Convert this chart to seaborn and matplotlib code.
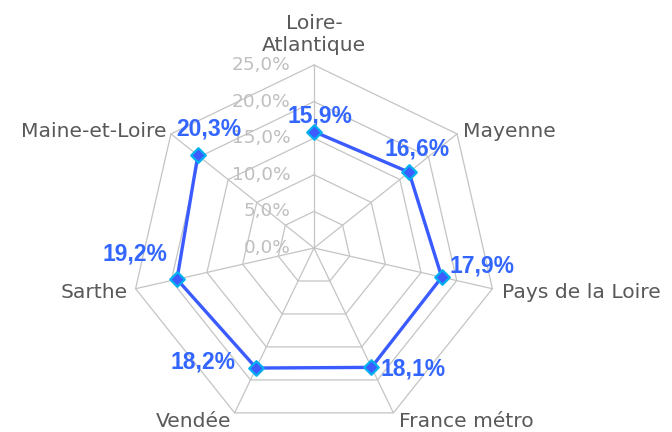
import numpy as np
import pandas as pd
import matplotlib
matplotlib.use("Agg")
import matplotlib.pyplot as plt
import seaborn as sns

# data (clockwise from top)
categories = ["Loire-\nAtlantique", "Mayenne", "Pays de la Loire", "France métro",
              "Vendée", "Sarthe", "Maine-et-Loire"]
values = [15.9, 16.6, 17.9, 18.1, 18.2, 19.2, 20.3]
ring_values = [0, 5, 10, 15, 20, 25]
ring_labels = ["0,0%", "5,0%", "10,0%", "15,0%", "20,0%", "25,0%"]
value_labels = ["15,9%", "16,6%", "17,9%", "18,1%", "18,2%", "19,2%", "20,3%"]

sns.set_style("white")
plt.rcParams["font.family"] = ["DejaVu Sans"]

n = len(categories)
angles = np.arange(n) * 2 * np.pi / n
rmax = ring_values[-1]

def xy(r, a):
    return r * np.sin(a), r * np.cos(a)

fig = plt.figure(figsize=(6.72, 4.32), dpi=100)
ax = fig.add_axes([0, 0, 1, 1])
ax.set_axis_off()
# center of the web at pixel (314, 248), radius 183 px for 25%
scale = 183 / rmax
ax.set_xlim(-314 / scale, (672 - 314) / scale)
ax.set_ylim(-(432 - 248) / scale, 248 / scale)

grid_col = "#C4C4C4"
# polygon rings
for r in ring_values[1:]:
    gx, gy = xy(r, np.append(angles, angles[0]))
    ax.plot(gx, gy, color=grid_col, lw=0.9, zorder=1)
# spokes
for a in angles:
    sx, sy = xy(np.array([0, rmax]), a)
    ax.plot(sx, sy, color=grid_col, lw=0.9, zorder=1)

# ring value labels along the top spoke
for r, lab in zip(ring_values, ring_labels):
    ax.annotate(lab, (0, r), xytext=(-17, 0), textcoords="offset points",
                ha="right", va="center", fontsize=13.3, color="#BFBFBF")

# series
px, py = xy(np.array(values), angles)
df = pd.DataFrame({"x": np.append(px, px[0]), "y": np.append(py, py[0])})
sns.lineplot(data=df, x="x", y="y", sort=False, color="#3A5BFF", lw=2.4,
             ax=ax, zorder=3)
sns.scatterplot(x=px, y=py, marker="D", s=55, facecolor="#3D5BFF",
                edgecolor="#00B0F0", linewidth=1.6, ax=ax, zorder=4)

# category labels
cat_style = [
    ("center", "bottom", (0, 7)),
    ("left", "center", (4, 2)),
    ("left", "center", (7, -3)),
    ("left", "center", (4, -6)),
    ("right", "center", (-2, -6)),
    ("right", "center", (-6, -3)),
    ("right", "center", (-3, 2)),
]
for cat, a, (ha, va, off) in zip(categories, angles, cat_style):
    ax.annotate(cat, xy(rmax, a), xytext=off, textcoords="offset points",
                ha=ha, va=va, fontsize=14.6, color="#595959", linespacing=1.25)

# data labels
lab_off = [(4, 11), (6, 17), (29, 8), (30, -1), (-38, 4), (-30, 18), (8, 19)]
for x0, y0, lab, off in zip(px, py, value_labels, lab_off):
    ax.annotate(lab, (x0, y0), xytext=off, textcoords="offset points",
                ha="center", va="center", fontsize=16.5, fontweight="bold",
                color="#3366FF", family=["Liberation Sans", "DejaVu Sans"])

fig.savefig("out.png", dpi=100)
